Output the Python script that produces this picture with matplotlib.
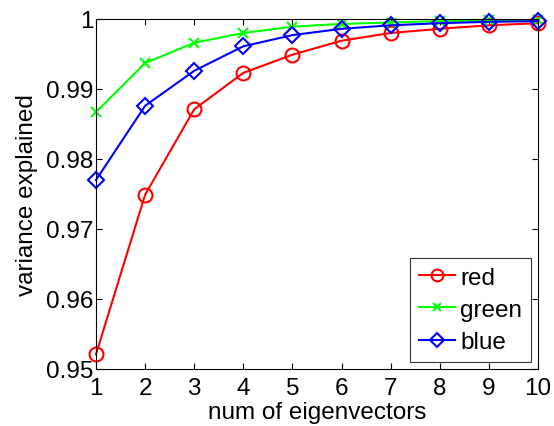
import matplotlib
matplotlib.use("Agg")
import matplotlib.pyplot as plt

plt.rcParams['font.family'] = ['Liberation Sans', 'DejaVu Sans']

x = list(range(1, 11))
red = [0.9521, 0.9749, 0.9871, 0.9923, 0.9949, 0.9969, 0.9980, 0.9986, 0.9991, 0.9994]
green = [0.9867, 0.9937, 0.9966, 0.9980, 0.9989, 0.9993, 0.9995, 0.9997, 0.9998, 0.9998]
blue = [0.9770, 0.9876, 0.9926, 0.9961, 0.9977, 0.9986, 0.9991, 0.9994, 0.9996, 0.9997]
xticks = list(range(1, 11))
yticks = [0.95, 0.96, 0.97, 0.98, 0.99, 1.0]
yticklabels = ['0.95', '0.96', '0.97', '0.98', '0.99', '1']

fs = 17.5
fig = plt.figure(figsize=(5.54, 4.27), dpi=100)
ax = fig.add_axes([96/554, 1-370/427, (538-96)/554, (370-20)/427])

ax.plot(x, red, color='#ff0000', marker='o', markersize=10, markerfacecolor='none',
        markeredgewidth=1.5, linewidth=1.5, label='red', clip_on=False)
ax.plot(x, green, color='#00ff00', marker='x', markersize=7, markeredgewidth=1.5,
        linewidth=1.5, label='green', clip_on=False)
ax.plot(x, blue, color='#0000ff', marker='D', markersize=8, markerfacecolor='none',
        markeredgewidth=1.5, linewidth=1.5, label='blue', clip_on=False)

ax.set_xlim(1, 10)
ax.set_ylim(0.95, 1.0)
ax.set_xticks(xticks)
ax.set_yticks(yticks)
ax.set_yticklabels(yticklabels)
ax.tick_params(direction='in', top=True, right=True, labelsize=fs, length=4, width=0.8)
ax.tick_params(axis='x', pad=6)
ax.tick_params(axis='y', pad=2)
ax.set_xlabel('num of eigenvectors', fontsize=fs, labelpad=1)
ax.set_ylabel('variance explained', fontsize=fs, labelpad=6)
for s in ax.spines.values():
    s.set_linewidth(0.8)

leg = ax.legend(loc='lower right', fontsize=fs, frameon=True, fancybox=False,
                edgecolor='black', handlelength=1.5, handletextpad=0.2,
                borderpad=0.35, labelspacing=0.42, borderaxespad=0.3,
                markerscale=0.85)
leg.get_frame().set_linewidth(0.8)

fig.savefig('out.png', dpi=100)
